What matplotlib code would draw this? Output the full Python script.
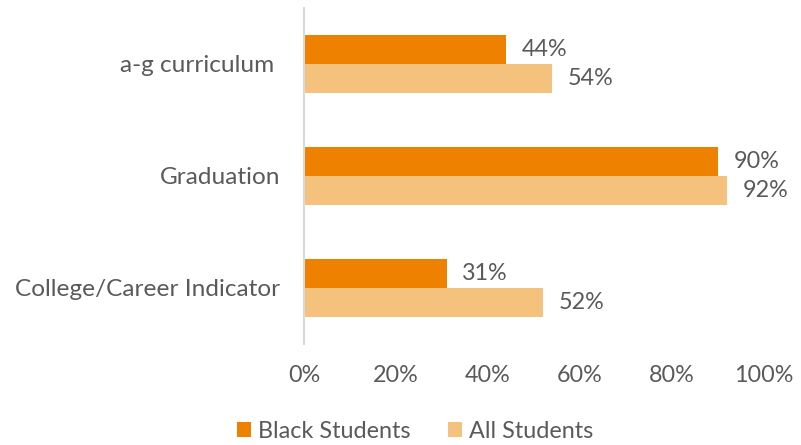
import matplotlib
matplotlib.use("Agg")
import matplotlib.pyplot as plt
import numpy as np

categories = ["a-g curriculum ", "Graduation", "College/Career Indicator"]
black_students = [44, 90, 31]
all_students = [54, 92, 52]
xticks = [0, 20, 40, 60, 80, 100]

dark = "#EE8100"
light = "#F5C27E"
grey = "#5A5A5A"
fs = 16.8

plt.rcParams["font.family"] = ["Lato", "DejaVu Sans"]

fig = plt.figure(figsize=(8.01, 4.45), dpi=100)
ax = fig.add_axes([304/801, 101/445, 460/801, 336/445])

y = np.arange(len(categories))
h = 0.259
b1 = ax.barh(y - h/2, black_students, height=h, color=dark, label="Black Students")
b2 = ax.barh(y + h/2, all_students, height=h, color=light, label="All Students")

for bars, vals in [(b1, black_students), (b2, all_students)]:
    for bar, v in zip(bars, vals):
        ax.annotate("%d%%" % v, (v, bar.get_y() + bar.get_height()/2),
                    xytext=(11, 0), textcoords="offset points",
                    va="center", ha="left", fontsize=fs, color=grey)

ax.set_xlim(0, 100)
ax.set_ylim(2.5, -0.5)
ax.set_yticks(y)
ax.set_yticklabels(categories, fontsize=17.6, color=grey)
ax.set_xticks(xticks)
ax.set_xticklabels(["%d%%" % t for t in xticks], fontsize=fs, color=grey)
ax.tick_params(axis="both", length=0)
ax.tick_params(axis="y", pad=17)
ax.tick_params(axis="x", pad=15)
for s in ["top", "right", "bottom"]:
    ax.spines[s].set_visible(False)
ax.spines["left"].set_color("#D9D9D9")
ax.spines["left"].set_linewidth(1.5)

fig.legend(handles=[b1, b2], loc="lower center", bbox_to_anchor=(0.518, -0.04),
           ncol=2, frameon=False, fontsize=fs, labelcolor=grey,
           handlelength=0.6, handleheight=0.6, handletextpad=0.3, columnspacing=1.6)

fig.savefig("out.png", dpi=100)
